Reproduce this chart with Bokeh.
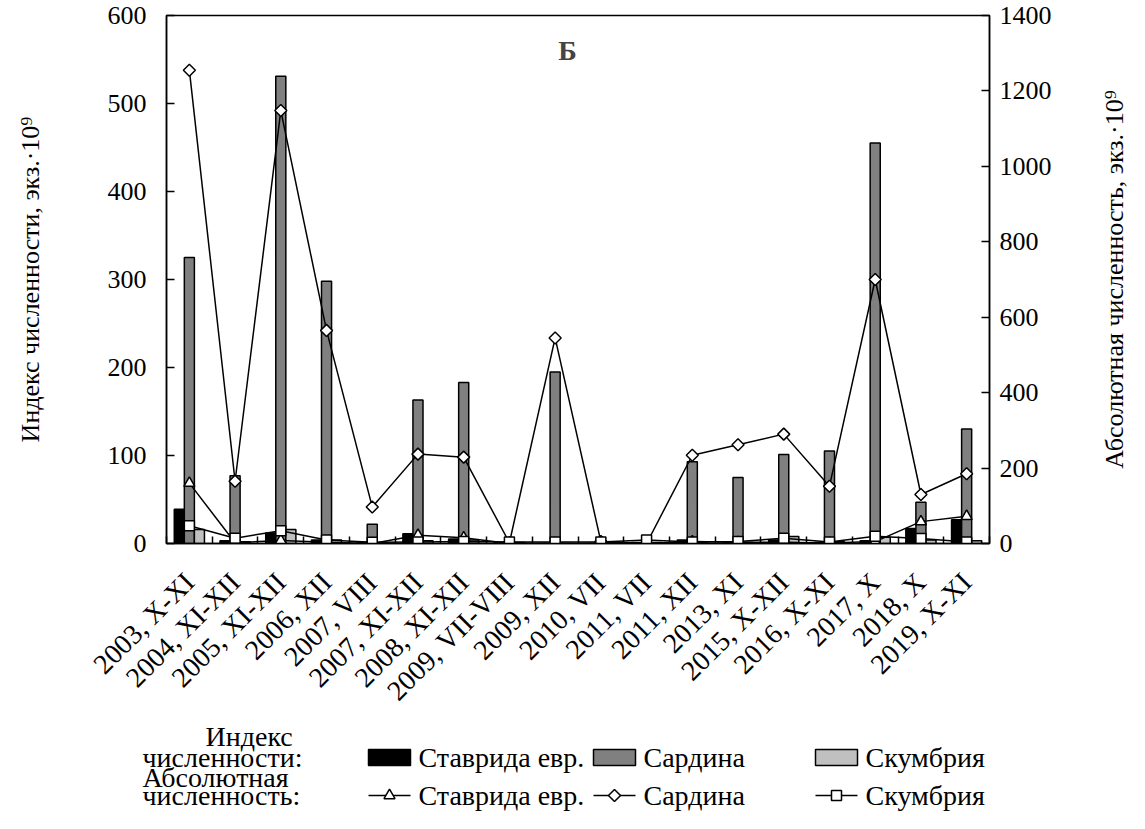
import math
from bokeh.plotting import figure
from bokeh.models import (Range1d, LinearAxis, FixedTicker, ColumnDataSource, Label, LinearScale)
from bokeh.layouts import column, row
from bokeh.embed import file_html
from bokeh.resources import INLINE
from bokeh.core.properties import value

# ---------------- data ----------------
categories = ["2003, X-XI", "2004, XI-XII", "2005, XI-XII", "2006, XII", "2007, VIII",
              "2007, XI-XII", "2008, XI-XII", "2009, VII-VIII", "2009, XII", "2010, VII",
              "2011, VII", "2011, XII", "2013, XI", "2015, X-XII", "2016, X-XI",
              "2017, X", "2018, X", "2019, X-XI"]

# Index of abundance (left axis), ind.*10^9
idx_stavrida = [39, 3, 12, 4, 1, 11, 5, 1, 0, 0, 1, 4, 2, 4, 1, 3, 17, 27]
idx_sardina = [325, 77, 531, 298, 22, 163, 183, 2, 195, 1, 0.5, 93, 75, 101, 105, 455, 47, 130]
idx_skumbria = [16, 2, 16, 4, 0.5, 3, 4, 1, 0, 1, 1, 2, 1, 8, 2, 7, 4, 3]

# Absolute abundance (right axis), ind.*10^9
abs_stavrida = [160, 2, 8, 3, 0, 22, 15, 0, 0, 0, 0, 5, 3, 3, 1, 5, 58, 72]
abs_sardina = [1255, 165, 1148, 565, 97, 237, 229, 2, 545, 5, 0, 234, 262, 290, 152, 700, 130, 185]
abs_skumbria = [47, 14, 34, 9, 3, 4, 5, 4, 4, 4, 9, 4, 5, 14, 4, 19, 13, 4]

left_ticks = [0, 100, 200, 300, 400, 500, 600]
right_ticks = [0, 200, 400, 600, 800, 1000, 1200, 1400]

left_title = "Индекс численности, экз.·10⁹"
right_title = "Абсолютная численность, экз.·10⁹"

FONT = "Liberation Serif"
FS = "26px"
FS_X = "28px"
FS_LEG = "28px"

n = len(categories)
xc = [i + 0.5 for i in range(n)]          # category centres
bounds = [float(i) for i in range(n + 1)]  # category boundaries (tick marks)
bw = 0.22                                  # bar width (category units)

src = ColumnDataSource(dict(x=xc,
                            x_st=[v - bw for v in xc], x_sk=[v + bw for v in xc],
                            i_st=idx_stavrida, i_sa=idx_sardina, i_sk=idx_skumbria,
                            a_st=abs_stavrida, a_sa=abs_sardina, a_sk=abs_skumbria))

W = 1129
W_T = 40            # width of strip holding the right-axis title
W_MAIN = W - W_T
H_MAIN = 722
TOP = 15
PLOT_H = 528

p = figure(x_range=Range1d(0, n), y_range=Range1d(0, 600),
           width=W_MAIN, height=H_MAIN, output_backend="svg", toolbar_location=None,
           x_axis_location=None, y_axis_location=None,
           min_border_left=166, min_border_right=100, min_border_top=TOP,
           min_border_bottom=H_MAIN - TOP - PLOT_H)
p.extra_y_ranges = {"abs": Range1d(0, 1400)}
p.extra_y_scales = {"abs": LinearScale()}
p.xgrid.visible = False
p.ygrid.visible = False
p.outline_line_color = "black"
p.outline_line_width = 1.5
p.background_fill_color = "white"
p.border_fill_color = "white"

# left axis
la = LinearAxis(ticker=FixedTicker(ticks=left_ticks))
la.axis_label = left_title
p.add_layout(la, "left")

# right axis
ra = LinearAxis(y_range_name="abs", ticker=FixedTicker(ticks=right_ticks))
p.add_layout(ra, "right")

for ax in [la, ra]:
    ax.major_tick_in = 8
    ax.major_tick_out = 0
    ax.minor_tick_line_color = None
    ax.axis_line_width = 1.5
    ax.major_tick_line_width = 1.5
    ax.major_label_text_font = FONT
    ax.major_label_text_font_size = FS
    ax.major_label_text_color = "black"
    ax.axis_label_text_font = FONT
    ax.axis_label_text_font_style = "normal"
    ax.axis_label_text_font_size = FS
    ax.axis_label_text_color = "black"
la.major_label_standoff = 20
la.axis_label_standoff = 60
ra.major_label_standoff = 10

# category axis: labels at centres, tick marks at boundaries (minor ticks)
ca = LinearAxis(ticker=FixedTicker(ticks=xc, minor_ticks=bounds),
                major_label_overrides={v: c for v, c in zip(xc, categories)})
ca.axis_line_width = 1.5
ca.major_tick_line_color = None
ca.minor_tick_in = 7
ca.minor_tick_out = 0
ca.minor_tick_line_width = 1.5
ca.minor_tick_line_color = "black"
ca.major_label_orientation = math.pi / 4
ca.major_label_text_font = FONT
ca.major_label_text_font_size = FS_X
ca.major_label_text_color = "black"
ca.major_label_standoff = 28
p.add_layout(ca, "below")

# bars
p.vbar(x="x_st", top="i_st", width=bw, source=src,
       fill_color="black", line_color="black", line_width=1.5)
p.vbar(x="x", top="i_sa", width=bw, source=src,
       fill_color="#808080", line_color="black", line_width=1.5)
p.vbar(x="x_sk", top="i_sk", width=bw, source=src,
       fill_color="#c0c0c0", line_color="black", line_width=1.5)

# lines
for col in ["a_st", "a_sa", "a_sk"]:
    p.line(x="x", y=col, source=src, y_range_name="abs", line_color="black", line_width=1.5)
p.scatter(x="x", y="a_st", source=src, y_range_name="abs", marker="triangle", size=11,
          fill_color="white", line_color="black", line_width=1.5)
p.scatter(x="x", y="a_sa", source=src, y_range_name="abs", marker="square", angle=math.pi / 4,
          size=8.5, fill_color="white", line_color="black", line_width=1.5)
p.scatter(x="x", y="a_sk", source=src, y_range_name="abs", marker="square", size=10,
          fill_color="white", line_color="black", line_width=1.5)

# panel title
p.add_layout(Label(x=8.77, y=560, text="Б", text_font=FONT, text_font_size="28px",
                   text_font_style="bold", text_align="center", text_baseline="middle"))

# ---------------- right-axis title strip ----------------
tf = figure(width=W_T, height=H_MAIN, x_range=Range1d(0, W_T), y_range=Range1d(H_MAIN, 0),
            output_backend="svg", toolbar_location=None, min_border=0,
            x_axis_location=None, y_axis_location=None)
tf.xgrid.visible = False
tf.ygrid.visible = False
tf.outline_line_color = None
tf.text(x=[25], y=[TOP + PLOT_H / 2], text=[right_title], angle=math.pi / 2,
        text_font=value(FONT), text_font_size=FS, text_align="center", text_baseline="middle")

# ---------------- legend figure ----------------
LH = 813 - H_MAIN
lg = figure(width=W, height=LH, x_range=Range1d(0, W), y_range=Range1d(LH, 0),
            output_backend="svg", toolbar_location=None, min_border=0,
            x_axis_location=None, y_axis_location=None)
lg.xgrid.visible = False
lg.ygrid.visible = False
lg.outline_line_color = None
for fig in (p, tf, lg):
    if "frame_align" in fig.properties():
        fig.frame_align = False

r1 = 35   # row centres (legend-figure pixels)
r2 = 73
sw_x = [368, 593, 815]  # swatch left edges
sw_w = 42
text_x = [s + sw_w + 8 for s in sw_x]
bar_cols = ["black", "#808080", "#c0c0c0"]
names = ["Ставрида евр.", "Сардина", "Скумбрия"]
for i in range(3):
    lg.quad(left=sw_x[i], right=sw_x[i] + sw_w, top=r1 - 8, bottom=r1 + 8,
            fill_color=bar_cols[i], line_color="black", line_width=1.5)
    lg.line(x=[sw_x[i], sw_x[i] + sw_w], y=[r2, r2], line_color="black", line_width=1.5)
markers = [("triangle", 0, 11), ("square", math.pi / 4, 8.5), ("square", 0, 10)]
for i, (mk, ang, sz) in enumerate(markers):
    lg.scatter(x=[sw_x[i] + sw_w / 2], y=[r2], marker=mk, angle=ang, size=sz,
               fill_color="white", line_color="black", line_width=1.5)
lg.text(x=text_x + text_x, y=[r1] * 3 + [r2] * 3, text=names + names,
        text_font=value(FONT), text_font_size=FS_LEG, text_baseline="middle", text_align="left")
lg.text(x=[205, 142, 142, 142], y=[14, r1, 55, r2],
        text=["Индекс", "численности:", "Абсолютная", "численность:"],
        text_font=value(FONT), text_font_size=FS_LEG, text_baseline="middle", text_align="left")

layout = column(row(p, tf, spacing=0), lg, spacing=0)
open("out.html", "w").write(file_html(layout, INLINE))
